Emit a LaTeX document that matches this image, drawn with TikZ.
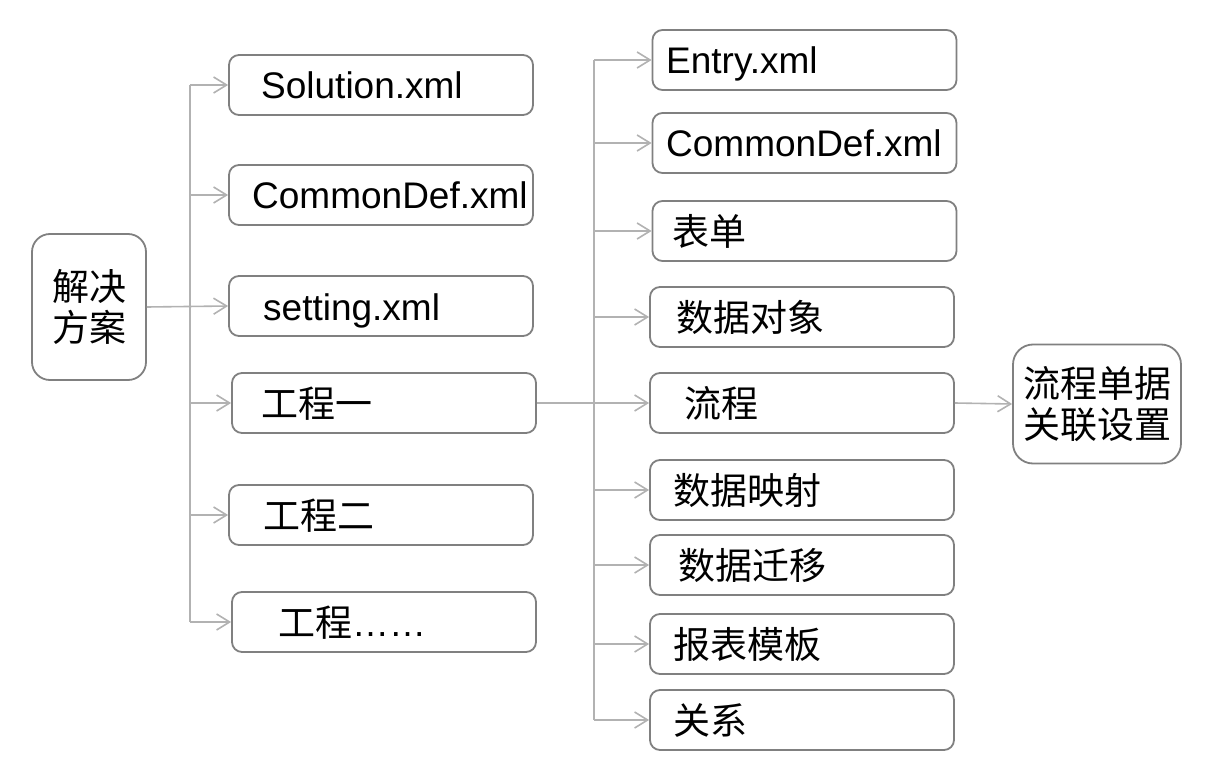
\documentclass[tikz,border=0pt]{standalone}
\usepackage{fontspec}
\setmainfont{Liberation Sans}
\newfontfamily\cjk{Noto Sans CJK SC}
\usetikzlibrary{arrows.meta,positioning}
\definecolor{boxgray}{RGB}{128,128,128}
\definecolor{wiregray}{RGB}{178,178,178}

\tikzset{
  filebox/.style={draw=boxgray, line width=1.8pt, rounded corners=10pt,
    minimum width=304pt, minimum height=60pt, inner sep=0pt},
  rootbox/.style={draw=boxgray, line width=1.8pt, rounded corners=18pt,
    align=center, inner sep=0pt, font=\cjk\fontsize{37}{41}\selectfont},
  boxtext/.style={anchor=base west, inner sep=0pt, font=\fontsize{37}{41}\selectfont},
  wire/.style={draw=wiregray, line width=1.6pt},
  conn/.style={wire, -{Straight Barb[length=13pt,width=16pt]}}
}

\begin{document}
\begin{tikzpicture}[x=1pt,y=-1pt]
\useasboundingbox (0,0) rectangle (1223,762);

% solution root
\node[rootbox, minimum width=114pt, minimum height=146pt] (root) at (89,307) {解决\\方案};

% left column
\node[filebox] (sol) at (381,85) {};
\node[filebox] (cdef) at (381,195) {};
\node[filebox] (set) at (381,306) {};
\node[filebox] (pa) at (384,403) {};
\node[filebox] (pb) at (381,515) {};
\node[filebox] (pn) at (384,622) {};

\node[boxtext] (sol-t) at (261,99) {Solution.xml};
\node[boxtext] (cdef-t) at (252,209) {CommonDef.xml};
\node[boxtext] (set-t) at (263,320) {setting.xml};
\node[boxtext] (pa-t) at (261,417) {\cjk 工程一};
\node[boxtext] (pb-t) at (263,529) {\cjk 工程二};
\node[boxtext] (pn-t) at (278,636) {{\cjk 工程}……};

% right column (project contents)
\node[filebox] (entry) at (804.5,60) {};
\node[filebox] (cdef2) at (804.5,143) {};
\node[filebox] (form) at (804.5,231) {};
\node[filebox] (dobj) at (802,317) {};
\node[filebox] (flow) at (802,403) {};
\node[filebox] (dmap) at (802,490) {};
\node[filebox] (dmig) at (802,565) {};
\node[filebox] (rpt) at (802,644) {};
\node[filebox] (rel) at (802,720) {};

\node[boxtext] (entry-t) at (666,74) {Entry.xml};
\node[boxtext] (cdef2-t) at (666,157) {CommonDef.xml};
\node[boxtext] (form-t) at (672,245) {\cjk 表单};
\node[boxtext] (dobj-t) at (676,331) {\cjk 数据对象};
\node[boxtext] (flow-t) at (684,417) {\cjk 流程};
\node[boxtext] (dmap-t) at (673,504) {\cjk 数据映射};
\node[boxtext] (dmig-t) at (678,579) {\cjk 数据迁移};
\node[boxtext] (rpt-t) at (673,658) {\cjk 报表模板};
\node[boxtext] (rel-t) at (673,734) {\cjk 关系};

% flow settings
\node[rootbox, minimum width=168pt, minimum height=119pt, rounded corners=20pt] (link) at (1097,404) {流程单据\\关联设置};

% connectors, left
\coordinate (trunkL) at (190,0);
\draw[wire] (trunkL |- sol.west) -- (trunkL |- pn.west);
\draw[conn] (root.east) -- (set.west);
\foreach \n in {sol,cdef,pa,pb,pn}
  \draw[conn] (trunkL |- \n.west) -- (\n.west);

% connectors, right
\coordinate (trunkR) at (594,0);
\draw[wire] (trunkR |- entry.west) -- (trunkR |- rel.west);
\draw[conn] (pa.east) -- (flow.west);
\foreach \n in {entry,cdef2,form,dobj,dmap,dmig,rpt,rel}
  \draw[conn] (trunkR |- \n.west) -- (\n.west);
\draw[conn] (flow.east) -- (link.west);

\end{tikzpicture}
\end{document}
